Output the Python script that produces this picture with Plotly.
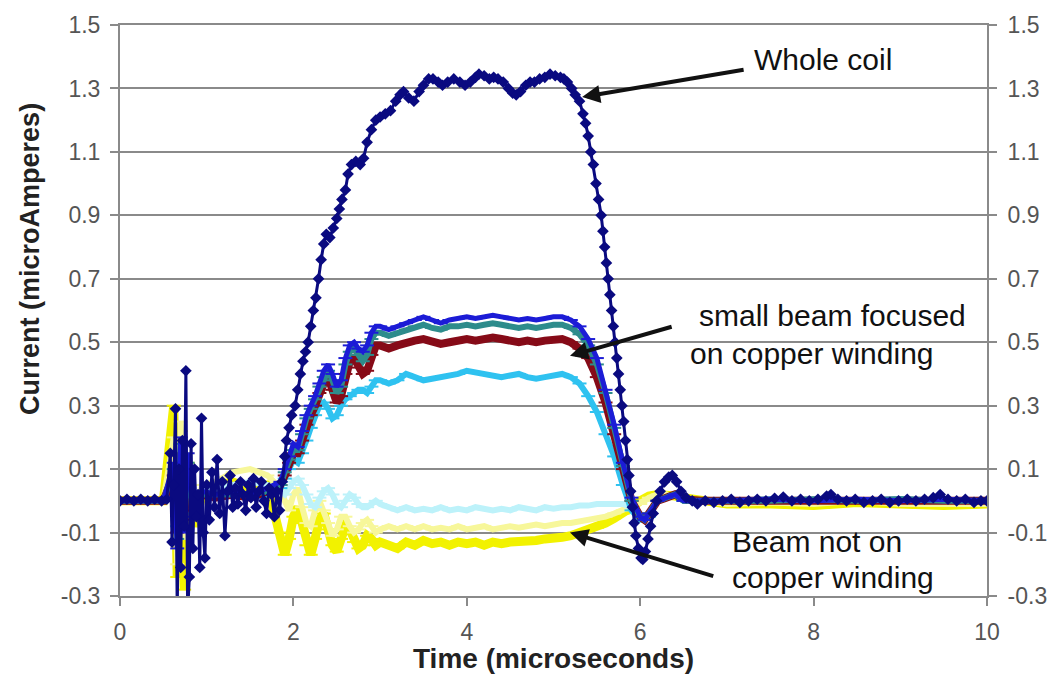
import plotly.graph_objects as go

# ---------------- data ----------------
# Whole coil (time in microseconds, current in microAmperes)
wc_t = [0.0, 0.08, 0.16, 0.24, 0.32, 0.40, 0.48, 0.54,
        0.58, 0.60, 0.62, 0.64, 0.66, 0.68, 0.70, 0.72, 0.74, 0.76, 0.78, 0.80,
        0.82, 0.84, 0.86, 0.88, 0.90, 0.92, 0.94, 0.96, 0.98, 1.00, 1.03, 1.06,
        1.09, 1.12, 1.15, 1.18, 1.21, 1.24, 1.27, 1.30,
        1.33, 1.36, 1.39, 1.42, 1.45, 1.48, 1.51, 1.54, 1.57, 1.60, 1.63, 1.66,
        1.69, 1.72, 1.75, 1.78, 1.81, 1.84,
        1.87, 1.90, 1.92, 1.95, 1.98, 2.02, 2.05, 2.08, 2.11, 2.14, 2.17, 2.20,
        2.23, 2.26, 2.29, 2.32, 2.35, 2.38, 2.42, 2.46, 2.50, 2.53, 2.56, 2.60,
        2.63, 2.67, 2.72, 2.77, 2.81, 2.85, 2.90, 2.95, 3.00, 3.06, 3.12, 3.18,
        3.23, 3.27, 3.33, 3.39, 3.45, 3.50, 3.56, 3.61, 3.67, 3.72, 3.78, 3.85,
        3.92, 3.98, 4.04, 4.10, 4.14, 4.20, 4.26, 4.31, 4.36, 4.42, 4.48, 4.53,
        4.57, 4.62, 4.68, 4.73, 4.78, 4.84, 4.90, 4.96, 5.02, 5.08, 5.12, 5.16,
        5.21,
        5.25, 5.30, 5.34, 5.37, 5.40, 5.43, 5.46, 5.49, 5.52, 5.55, 5.57, 5.59,
        5.61, 5.63, 5.65, 5.67, 5.69, 5.71, 5.73, 5.75, 5.77, 5.79, 5.81, 5.83,
        5.85, 5.87, 5.89, 5.91, 5.93, 5.95, 5.98, 6.01, 6.03, 6.06, 6.09, 6.12,
        6.15, 6.19, 6.23, 6.28, 6.33, 6.37, 6.42, 6.47, 6.53, 6.60, 6.66,
        6.75, 6.85, 6.95, 7.05, 7.15, 7.25, 7.35, 7.45, 7.55, 7.65, 7.75, 7.85,
        7.95, 8.05, 8.15, 8.20, 8.28, 8.38, 8.48, 8.58, 8.68, 8.78, 8.88, 8.98,
        9.08, 9.18, 9.28, 9.38, 9.46, 9.55, 9.65, 9.75, 9.85, 9.93, 10.0]
wc_i = [0.0, 0.005, 0.0, 0.005, 0.0, 0.005, 0.0, 0.005,
        0.15, -0.13, 0.05, 0.29, -0.35, 0.10, -0.21, 0.19, -0.08, 0.41, -0.35, -0.24,
        0.18, -0.15, 0.10, -0.05, 0.02, -0.21, 0.26, -0.10, -0.18, 0.05, -0.06, 0.09,
        -0.02, 0.13, -0.04, 0.06, -0.11, 0.03, 0.08, -0.02,
        0.04, -0.01, 0.06, 0.02, -0.03, 0.05, 0.01, 0.07, -0.02, 0.03, 0.06, 0.0,
        -0.04, 0.04, 0.02, -0.05, 0.03, -0.03,
        0.06, 0.14, 0.19, 0.23, 0.27, 0.30, 0.35, 0.40, 0.44, 0.47, 0.50, 0.55,
        0.60, 0.64, 0.70, 0.76, 0.81, 0.84, 0.83, 0.86, 0.89, 0.92, 0.95, 0.98,
        1.03, 1.06, 1.07, 1.06, 1.08, 1.13, 1.17, 1.20, 1.21, 1.22, 1.23, 1.26,
        1.28, 1.29, 1.27, 1.26, 1.29, 1.31, 1.33, 1.33, 1.32, 1.31, 1.32, 1.33,
        1.32, 1.31, 1.32, 1.335, 1.345, 1.34, 1.33, 1.335, 1.33, 1.32, 1.30, 1.285,
        1.28, 1.29, 1.31, 1.32, 1.32, 1.33, 1.335, 1.345, 1.34, 1.335, 1.33, 1.32,
        1.30,
        1.28, 1.26, 1.22, 1.19, 1.15, 1.10, 1.06, 1.00, 0.95, 0.90, 0.85, 0.80,
        0.75, 0.70, 0.65, 0.60, 0.55, 0.50, 0.45, 0.40, 0.35, 0.30, 0.25, 0.19,
        0.13, 0.08, 0.03, -0.02, -0.07, -0.11, -0.15, -0.18, -0.185, -0.16, -0.12, -0.08,
        -0.04, 0.0, 0.03, 0.06, 0.075, 0.08, 0.06, 0.03, 0.01, 0.0, -0.01,
        0.0, -0.005, 0.0, 0.005, -0.005, 0.0, 0.005, 0.0, 0.008, 0.012, 0.0, 0.005,
        0.0, 0.005, 0.015, 0.02, 0.005, 0.0, 0.005, -0.005, 0.0, 0.005, -0.005, 0.0,
        0.005, 0.0, 0.005, 0.01, 0.02, 0.005, 0.0, 0.005, -0.005, 0.0, 0.0]

# common time base for the other seven traces
t = [0.0, 0.5, 0.62, 0.66, 0.70, 0.74, 0.78, 0.85, 0.95, 1.1,
     1.3, 1.5, 1.7, 1.85, 1.9, 1.95, 2.0, 2.05, 2.1, 2.15,
     2.2, 2.25, 2.3, 2.35, 2.4, 2.45, 2.5, 2.55, 2.6, 2.65,
     2.7, 2.75, 2.8, 2.85, 2.9, 2.95, 3.0, 3.1, 3.2, 3.3,
     3.4, 3.5, 3.6, 3.7, 3.8, 3.9, 4.0, 4.1, 4.2, 4.3,
     4.4, 4.5, 4.6, 4.7, 4.8, 4.9, 5.0, 5.1, 5.2, 5.3,
     5.4, 5.5, 5.6, 5.7, 5.8, 5.9, 6.0, 6.05, 6.1, 6.2,
     6.3, 6.4, 6.5, 6.7, 7.0, 7.5, 8.0, 8.5, 9.0, 9.5,
     10.0]

# small beam focused on copper winding
sb_blue = [0.0, 0.0, 0.12, -0.15, 0.20, -0.10, 0.15, -0.05, 0.03, 0.02,
           0.03, 0.02, 0.04, 0.06, 0.10, 0.14, 0.18, 0.17, 0.22, 0.27,
           0.30, 0.33, 0.37, 0.41, 0.43, 0.40, 0.36, 0.38, 0.45, 0.49,
           0.50, 0.48, 0.47, 0.49, 0.53, 0.55, 0.55, 0.54, 0.55, 0.56,
           0.57, 0.58, 0.57, 0.56, 0.57, 0.575, 0.58, 0.575, 0.58, 0.585,
           0.58, 0.575, 0.57, 0.575, 0.57, 0.575, 0.58, 0.58, 0.57, 0.55,
           0.51, 0.45, 0.35, 0.24, 0.12, 0.01, -0.05, -0.06, -0.04, 0.0,
           0.01, 0.02, 0.0, 0.0, 0.0, 0.005, 0.0, 0.005, 0.0, 0.005,
           0.0]
sb_teal = [0.0, 0.0, 0.10, -0.12, 0.18, -0.08, 0.12, -0.04, 0.02, 0.02,
           0.02, 0.02, 0.03, 0.05, 0.09, 0.13, 0.16, 0.16, 0.21, 0.26,
           0.29, 0.32, 0.36, 0.39, 0.41, 0.38, 0.34, 0.36, 0.43, 0.47,
           0.48, 0.46, 0.44, 0.46, 0.51, 0.53, 0.53, 0.52, 0.53, 0.54,
           0.55, 0.555, 0.545, 0.54, 0.55, 0.55, 0.555, 0.55, 0.555, 0.56,
           0.555, 0.55, 0.545, 0.55, 0.545, 0.55, 0.555, 0.555, 0.545, 0.525,
           0.49, 0.43, 0.34, 0.23, 0.11, 0.0, -0.05, -0.06, -0.04, 0.0,
           0.01, 0.02, 0.0, 0.0, 0.0, 0.0, 0.005, 0.0, 0.005, 0.0,
           0.0]
sb_maroon = [0.0, 0.0, 0.08, -0.10, 0.15, -0.06, 0.10, -0.03, 0.02, 0.01,
             0.02, 0.01, 0.03, 0.05, 0.08, 0.12, 0.15, 0.15, 0.19, 0.24,
             0.27, 0.30, 0.34, 0.37, 0.39, 0.35, 0.31, 0.33, 0.40, 0.44,
             0.45, 0.42, 0.40, 0.41, 0.46, 0.49, 0.49, 0.48, 0.49, 0.50,
             0.505, 0.51, 0.50, 0.495, 0.50, 0.505, 0.51, 0.505, 0.51, 0.515,
             0.51, 0.505, 0.50, 0.505, 0.50, 0.505, 0.51, 0.51, 0.50, 0.48,
             0.45, 0.39, 0.31, 0.21, 0.10, 0.0, -0.05, -0.06, -0.04, 0.0,
             0.01, 0.02, 0.005, 0.0, 0.0, 0.0, 0.005, 0.0, 0.0, 0.0,
             0.0]
sb_cyan = [0.0, 0.0, 0.06, -0.08, 0.12, -0.05, 0.08, -0.02, 0.02, 0.01,
           0.02, 0.01, 0.02, 0.04, 0.07, 0.10, 0.13, 0.12, 0.15, 0.19,
           0.23, 0.27, 0.30, 0.31, 0.29, 0.26, 0.27, 0.30, 0.32, 0.33,
           0.34, 0.35, 0.35, 0.34, 0.36, 0.38, 0.38, 0.37, 0.38, 0.40,
           0.39, 0.38, 0.385, 0.39, 0.395, 0.40, 0.41, 0.405, 0.40, 0.395,
           0.39, 0.395, 0.40, 0.39, 0.385, 0.39, 0.395, 0.40, 0.39, 0.37,
           0.33, 0.28, 0.21, 0.14, 0.05, -0.03, -0.06, -0.06, -0.05, 0.0,
           0.01, 0.02, 0.0, 0.0, 0.0, 0.005, 0.0, 0.0, 0.005, 0.0,
           0.0]

# beam not on copper winding
off_lightcyan = [0.0, 0.0, 0.05, -0.06, 0.10, -0.05, 0.08, -0.02, 0.03, 0.04,
                 0.05, 0.06, 0.05, 0.03, 0.02, 0.04, 0.06, 0.07, 0.05, 0.02,
                 -0.01, -0.02, 0.01, 0.03, 0.04, 0.02, -0.01, -0.02, 0.0, 0.02,
                 0.01, -0.01, -0.02, -0.02, -0.01, 0.0, -0.01, -0.02, -0.03, -0.02,
                 -0.03, -0.025, -0.03, -0.02, -0.03, -0.025, -0.03, -0.02, -0.025, -0.03,
                 -0.025, -0.03, -0.02, -0.025, -0.03, -0.02, -0.025, -0.02, -0.02, -0.015,
                 -0.015, -0.01, -0.01, -0.01, -0.01, -0.02, -0.04, -0.05, -0.04, 0.0,
                 0.01, 0.02, 0.01, 0.0, 0.0, 0.005, 0.0, 0.0, 0.005, 0.0,
                 0.0]
off_lightyellow = [0.0, 0.0, 0.20, -0.20, 0.25, -0.12, 0.15, -0.05, 0.05, 0.06,
                   0.09, 0.10, 0.08, 0.04, 0.0, -0.03, 0.02, 0.04, -0.02, -0.07,
                   -0.08, -0.03, 0.0, -0.03, -0.07, -0.11, -0.09, -0.05, -0.05, -0.08,
                   -0.10, -0.09, -0.07, -0.06, -0.08, -0.10, -0.09, -0.08, -0.09, -0.08,
                   -0.09, -0.08, -0.09, -0.085, -0.09, -0.08, -0.09, -0.085, -0.08, -0.09,
                   -0.085, -0.08, -0.085, -0.08, -0.075, -0.08, -0.075, -0.07, -0.07, -0.065,
                   -0.06, -0.055, -0.05, -0.04, -0.03, -0.02, -0.01, 0.0, 0.01, 0.02,
                   0.02, 0.015, 0.01, 0.0, -0.01, -0.005, -0.01, 0.0, -0.01, -0.01,
                   -0.01]
off_yellow = [0.0, 0.0, 0.30, -0.24, 0.22, -0.28, 0.12, -0.08, 0.02, 0.05,
              0.06, 0.04, 0.05, -0.10, -0.17, -0.12, -0.05, -0.02, -0.07, -0.14,
              -0.17, -0.12, -0.06, -0.04, -0.09, -0.14, -0.16, -0.12, -0.08, -0.09,
              -0.13, -0.15, -0.14, -0.11, -0.12, -0.14, -0.13, -0.14, -0.15, -0.13,
              -0.14, -0.125, -0.135, -0.13, -0.14, -0.13, -0.135, -0.13, -0.14, -0.13,
              -0.135, -0.13, -0.13, -0.125, -0.125, -0.12, -0.12, -0.115, -0.11, -0.10,
              -0.095, -0.085, -0.07, -0.055, -0.04, -0.02, 0.0, 0.01, 0.015, 0.02,
              0.02, 0.015, 0.01, 0.0, -0.01, -0.01, -0.015, -0.005, -0.01, -0.015,
              -0.01]

y_ticks = [-0.3, -0.1, 0.1, 0.3, 0.5, 0.7, 0.9, 1.1, 1.3, 1.5]
y_ticktext = ["-0.3", "-0.1", "0.1", "0.3", "0.5", "0.7", "0.9", "1.1", "1.3", "1.5"]
x_ticks = [0, 2, 4, 6, 8, 10]

# ---------------- figure ----------------
fig = go.Figure()

band_traces = [
    (off_yellow, "#F2F200", 9),
    (off_lightyellow, "#F7F79A", 6),
    (off_lightcyan, "#BDF2FA", 6),
    (sb_cyan, "#2FC2F0", 6),
    (sb_maroon, "#860B18", 8),
    (sb_teal, "#2E8C8C", 6),
    (sb_blue, "#1C1CD6", 5),
]
for vals, col, w in band_traces:
    fig.add_trace(go.Scatter(
        x=t, y=vals, mode="lines+markers",
        line=dict(color=col, width=w),
        marker=dict(symbol="line-ew", size=10, line=dict(color=col, width=2)),
        hoverinfo="skip", showlegend=False))

fig.add_trace(go.Scatter(
    x=wc_t, y=wc_i, mode="lines+markers", yaxis="y2",
    line=dict(color="#0A0A80", width=3),
    marker=dict(symbol="diamond", size=9, color="#0A0A80"),
    hoverinfo="skip", showlegend=False))

axis_font = dict(family="Liberation Sans, Arial, sans-serif", size=23, color="#555555")
grey = "#8A8A8A"

fig.update_layout(
    width=1063, height=683,
    margin=dict(l=120, r=76, t=17, b=87),
    plot_bgcolor="white", paper_bgcolor="white",
    showlegend=False,
    font=dict(family="Liberation Sans, Arial, sans-serif"),
    xaxis=dict(range=[0, 10], tickvals=x_ticks, ticks="outside", ticklen=8,
               tickwidth=1.5, tickcolor=grey, showline=True, linecolor=grey,
               linewidth=2, mirror=True, showgrid=False, zeroline=False,
               tickfont=axis_font, ticklabelstandoff=6),
    yaxis=dict(range=[-0.3, 1.5], tickvals=y_ticks, ticktext=y_ticktext,
               ticks="outside", ticklen=8, tickwidth=1.5, tickcolor=grey,
               showline=True, linecolor=grey, linewidth=2,
               showgrid=True, gridcolor=grey, gridwidth=2, zeroline=False,
               tickfont=axis_font, ticklabelstandoff=5),
    yaxis2=dict(range=[-0.3, 1.5], tickvals=y_ticks, ticktext=y_ticktext,
                overlaying="y", side="right", anchor="x",
                ticks="outside", ticklen=8, tickwidth=1.5, tickcolor=grey,
                showline=True, linecolor=grey, linewidth=2,
                showgrid=False, zeroline=False,
                tickfont=axis_font, ticklabelstandoff=6),
)

title_font = dict(family="Liberation Sans, Arial, sans-serif", size=28, color="#222222")
label_font = dict(family="Liberation Sans, Arial, sans-serif", size=30, color="#111111")

annotations = [
    dict(text="<b>Time (microseconds)</b>", xref="paper", yref="paper",
         x=0.5, y=-0.11, xanchor="center", yanchor="middle",
         showarrow=False, font=title_font),
    dict(text="<b>Current (microAmperes)</b>", xref="paper", yref="paper",
         x=-0.104, y=0.59, xanchor="center", yanchor="middle", textangle=-90,
         showarrow=False, font=dict(family="Liberation Sans, Arial, sans-serif",
                                    size=27, color="#222222")),
    dict(text="Whole coil", xref="x", yref="y", x=7.29, y=1.39,
         xanchor="left", yanchor="middle", showarrow=False, font=label_font),
    dict(text="small beam focused", xref="x", yref="y", x=6.655, y=0.584,
         xanchor="left", yanchor="middle", showarrow=False, font=label_font),
    dict(text="on copper winding", xref="x", yref="y", x=6.55, y=0.466,
         xanchor="left", yanchor="middle", showarrow=False, font=label_font),
    dict(text="Beam not on", xref="x", yref="y", x=7.04, y=-0.127,
         xanchor="left", yanchor="middle", showarrow=False, font=label_font),
    dict(text="copper winding", xref="x", yref="y", x=7.04, y=-0.242,
         xanchor="left", yanchor="middle", showarrow=False, font=label_font),
]
arrows = [
    (5.33, 1.273, 7.21, 1.36),
    (5.19, 0.457, 6.38, 0.55),
    (5.19, -0.10, 6.86, -0.239),
]
for hx, hy, tx, ty in arrows:
    annotations.append(dict(
        text="", xref="x", yref="y", x=hx, y=hy, axref="x", ayref="y",
        ax=tx, ay=ty, showarrow=True, arrowhead=2, arrowsize=0.9,
        arrowwidth=4, arrowcolor="#111111", standoff=0))

fig.update_layout(annotations=annotations)

fig.write_html("out.html")
